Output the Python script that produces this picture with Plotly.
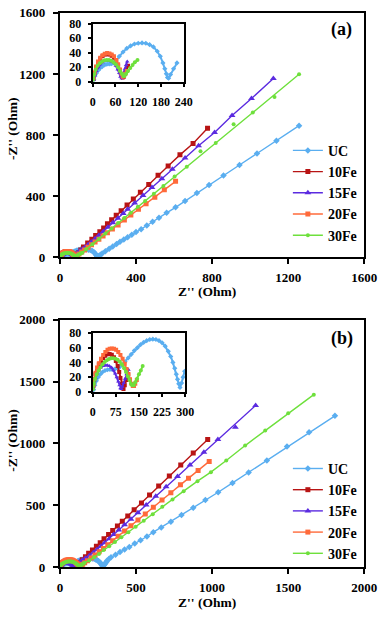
import plotly.graph_objects as go

# ---------------- DATA (Ohm) ----------------
SERIES = ["UC", "10Fe", "15Fe", "20Fe", "30Fe"]

# Panel (a): low-Z arcs (shown in inset and main) + Warburg tails (main only)
A_UC_ARC_X = [3, 6, 10, 15, 20, 25, 30, 35, 40, 45, 50, 55, 60, 70, 80, 90, 100, 110, 120, 130, 140, 150, 160, 170, 178, 185, 190, 194, 197, 200, 205, 213, 222]
A_UC_ARC_Y = [3, 8, 12, 16, 19, 21, 23, 24, 24.5, 24.5, 25, 26, 28, 35, 41, 46, 49.5, 52, 53, 53.5, 53, 51, 48, 42, 35, 26, 18, 11, 6, 5, 10, 18, 26]
A_UC_TAIL_X = [239, 259, 278, 298, 316, 336, 356, 378, 400, 427, 457, 487, 521, 561, 608, 658, 720, 784, 860, 944, 1036, 1138, 1257]
A_UC_TAIL_Y = [40, 57, 71, 88, 102, 117, 132, 149, 166, 185, 209, 234, 260, 292, 328, 370, 421, 474, 536, 605, 680, 764, 862]

A_10_ARC_X = [2, 5, 9, 14, 20, 26, 32, 38, 44, 50, 56, 62, 67, 72, 76, 79, 82, 85, 88, 93]
A_10_ARC_Y = [4, 12, 20, 27, 32, 35.5, 37.5, 38, 37.5, 36, 33, 28, 22, 16, 10, 6, 7, 11, 15, 22]
A_10_TAIL_X = [100, 110, 124, 146, 168, 188, 210, 230, 250, 272, 296, 322, 353, 386, 423, 467, 516, 569, 631, 700, 776]
A_10_TAIL_Y = [33, 48, 68, 94, 119, 143, 168, 193, 220, 247, 276, 306, 343, 382, 426, 478, 537, 599, 671, 746, 845]

A_15_ARC_X = [3, 6, 10, 15, 20, 26, 32, 38, 44, 50, 56, 61, 66, 70, 73, 76, 79, 82, 85, 88, 91]
A_15_ARC_Y = [3, 9, 15, 20, 24, 27, 28.5, 29, 29, 28, 26, 22, 17, 12, 7, 5, 8, 13, 18, 23, 28]
A_15_TAIL_X = [97, 106, 118, 132, 148, 165, 185, 205, 228, 252, 278, 305, 333, 356, 393, 437, 484, 536, 591, 658, 729, 813, 905, 1007, 1122]
A_15_TAIL_Y = [34, 42, 53, 66, 83, 101, 123, 145, 170, 198, 227, 257, 288, 316, 357, 405, 457, 515, 577, 651, 731, 817, 928, 1040, 1170]

A_20_ARC_X = [2, 5, 9, 14, 20, 26, 32, 38, 44, 50, 56, 62, 67, 72, 76, 79, 82, 86, 90]
A_20_ARC_Y = [5, 13, 21, 28, 33, 36.5, 38.5, 39.5, 39, 37.5, 35, 30, 24, 17, 11, 7, 8, 11, 15]
A_20_TAIL_X = [100, 115, 130, 148, 166, 185, 205, 227, 250, 276, 306, 339, 373, 413, 453, 499, 549, 608]
A_20_TAIL_Y = [22, 35, 49, 66, 83, 101, 119, 140, 162, 186, 213, 245, 277, 315, 351, 394, 443, 498]

A_30_ARC_X = [1, 4, 8, 13, 19, 25, 31, 37, 43, 49, 55, 61, 67, 72, 77, 81, 84, 88, 93, 99, 105, 111, 118]
A_30_ARC_Y = [3, 10, 17, 22, 25.5, 28, 29.5, 30, 30, 29, 27, 24, 20, 15, 11, 8, 8, 11, 15, 19, 23, 27, 30]
A_30_TAIL_X = [138, 171, 205, 239, 272, 306, 339, 373, 410, 448, 494, 544, 603, 667, 819, 1014, 1257]
A_30_TAIL_Y = [53, 87, 121, 156, 190, 225, 258, 293, 331, 370, 417, 468, 530, 594, 749, 948, 1198]
A_30_OFF_X = [739, 913, 1128]   # scattered points lying off the 30Fe line
A_30_OFF_Y = [694, 872, 1049]

# Panel (b)
B_UC_ARC_X = [3, 7, 12, 18, 25, 32, 40, 48, 56, 64, 72, 80, 88, 96, 105, 115, 125, 135, 145, 155, 165, 175, 185, 195, 205, 215, 225, 235, 245, 253, 260, 266, 271, 275, 279, 283, 288, 293, 298]
B_UC_ARC_Y = [3, 9, 15, 20, 24, 27, 29, 30, 30.5, 30.5, 31, 32, 34, 37, 41, 46, 51, 56, 60, 64, 67, 69.5, 71, 71.5, 71, 69.5, 66.5, 62, 55, 48, 40, 32, 24, 17, 11, 6, 12, 20, 28]
B_UC_TAIL_X = [305, 311, 322, 336, 366, 395, 425, 456, 492, 530, 572, 614, 666, 729, 799, 876, 956, 1040, 1134, 1240, 1360, 1492, 1637, 1807]
B_UC_TAIL_Y = [40, 52, 66, 79, 100, 121, 142, 163, 190, 216, 247, 282, 321, 366, 421, 479, 542, 605, 681, 766, 863, 975, 1090, 1224]

B_10_ARC_X = [2, 5, 9, 14, 20, 27, 34, 41, 48, 55, 62, 69, 75, 81, 86, 90, 94, 97, 100, 104, 109, 115]
B_10_ARC_Y = [8, 16, 24, 31, 37, 42, 46, 49, 51, 51.5, 50.5, 47, 42, 35, 27, 19, 11, 5, 4, 9, 16, 24]
B_10_TAIL_X = [125, 147, 168, 189, 214, 240, 265, 290, 320, 347, 378, 410, 446, 488, 536, 589, 649, 719, 794, 876, 971]
B_10_TAIL_Y = [36, 60, 84, 111, 137, 168, 197, 229, 264, 296, 332, 371, 413, 463, 519, 582, 655, 736, 825, 922, 1032]

B_15_ARC_X = [2, 5, 9, 14, 20, 26, 33, 40, 47, 54, 61, 67, 73, 78, 83, 87, 90, 93, 96, 100, 105, 110, 116]
B_15_ARC_Y = [5, 12, 19, 25, 29.5, 33, 35, 36, 36, 35, 33, 29.5, 25, 20, 14, 9, 5, 4, 7, 12, 18, 24, 30]
B_15_TAIL_X = [130, 147, 168, 193, 219, 244, 269, 294, 324, 353, 387, 425, 467, 513, 567, 630, 698, 773, 855, 946, 1038, 1286]
B_15_TAIL_Y = [42, 55, 71, 92, 116, 142, 168, 197, 229, 263, 300, 342, 387, 440, 502, 572, 649, 733, 825, 928, 1032, 1308]
B_15_OFF_X = [1153]   # scattered point lying off the 15Fe line
B_15_OFF_Y = [1131]

B_20_ARC_X = [2, 5, 9, 14, 20, 27, 34, 41, 48, 55, 62, 69, 76, 83, 90, 97, 104, 110, 116, 121, 126, 130, 134, 138, 143]
B_20_ARC_Y = [9, 18, 26, 33, 39, 45, 50, 54, 57, 58.5, 59, 58.5, 57, 54, 50, 45, 38, 31, 24, 17, 11, 8, 8, 11, 16]
B_20_TAIL_X = [150, 163, 181, 206, 231, 258, 286, 315, 347, 383, 425, 467, 513, 561, 614, 671, 729, 792, 845, 908, 981]
B_20_TAIL_Y = [22, 34, 50, 73, 97, 124, 151, 180, 213, 249, 291, 334, 381, 430, 484, 542, 601, 665, 718, 782, 855]

B_30_ARC_X = [1, 4, 8, 13, 19, 25, 32, 39, 46, 53, 60, 67, 74, 81, 88, 95, 102, 108, 114, 119, 124, 128, 133, 138, 144, 150, 156, 162]
B_30_ARC_Y = [4, 11, 18, 24, 29, 33.5, 37.5, 40.5, 43, 44.5, 45.5, 45.5, 45, 43.5, 41, 37, 32, 27, 21, 16, 11, 9, 9, 13, 18, 24, 29, 35]
B_30_TAIL_X = [193, 225, 257, 288, 324, 362, 404, 450, 498, 551, 610, 673, 740, 813, 904, 992, 1093, 1217, 1349, 1500, 1668]
B_30_TAIL_Y = [52, 79, 105, 137, 168, 203, 242, 282, 326, 374, 428, 487, 547, 614, 695, 768, 862, 983, 1104, 1245, 1395]

A_X_TICKS = [0, 400, 800, 1200, 1600]
B_X_TICKS = [0, 500, 1000, 1500, 2000]
A_IN_X_TICKS = [0, 60, 120, 180, 240]
B_IN_X_TICKS = [0, 75, 150, 225, 300]
IN_Y_TICKS = [0, 20, 40, 60, 80]

# ---------------- STYLE ----------------
COLORS = {"UC": "#5aaef0", "10Fe": "#b81414", "15Fe": "#5b2be0", "20Fe": "#ff6a3a", "30Fe": "#6ee03c"}
SYMBOLS = {"UC": "diamond", "10Fe": "square", "15Fe": "triangle-up", "20Fe": "square", "30Fe": "circle"}
MSIZE = {"UC": 5, "10Fe": 5, "15Fe": 6, "20Fe": 5, "30Fe": 4}
FONT = "Liberation Serif, Times New Roman, serif"

W, H = 392, 617
def px(v): return v / W
def py(v): return 1 - v / H

panels = {
    "a": {"UC": (A_UC_ARC_X, A_UC_ARC_Y, A_UC_TAIL_X, A_UC_TAIL_Y, [], []),
          "10Fe": (A_10_ARC_X, A_10_ARC_Y, A_10_TAIL_X, A_10_TAIL_Y, [], []),
          "15Fe": (A_15_ARC_X, A_15_ARC_Y, A_15_TAIL_X, A_15_TAIL_Y, [], []),
          "20Fe": (A_20_ARC_X, A_20_ARC_Y, A_20_TAIL_X, A_20_TAIL_Y, [], []),
          "30Fe": (A_30_ARC_X, A_30_ARC_Y, A_30_TAIL_X, A_30_TAIL_Y, A_30_OFF_X, A_30_OFF_Y)},
    "b": {"UC": (B_UC_ARC_X, B_UC_ARC_Y, B_UC_TAIL_X, B_UC_TAIL_Y, [], []),
          "10Fe": (B_10_ARC_X, B_10_ARC_Y, B_10_TAIL_X, B_10_TAIL_Y, [], []),
          "15Fe": (B_15_ARC_X, B_15_ARC_Y, B_15_TAIL_X, B_15_TAIL_Y, B_15_OFF_X, B_15_OFF_Y),
          "20Fe": (B_20_ARC_X, B_20_ARC_Y, B_20_TAIL_X, B_20_TAIL_Y, [], []),
          "30Fe": (B_30_ARC_X, B_30_ARC_Y, B_30_TAIL_X, B_30_TAIL_Y, [], [])},
}

fig = go.Figure()
axes = {"a": (("x", "y"), ("x2", "y2"), "legend"), "b": (("x3", "y3"), ("x4", "y4"), "legend2")}

for pan, data in panels.items():
    (mx, my), (ix, iy), leg = axes[pan]
    for name in SERIES:
        ax_, ay_, tx_, ty_, ox_, oy_ = data[name]
        c = COLORS[name]
        fig.add_trace(go.Scatter(
            x=ax_ + tx_, y=ay_ + ty_, xaxis=mx, yaxis=my, mode="lines+markers", name=name,
            line=dict(color=c, width=1.4),
            marker=dict(symbol=SYMBOLS[name], size=MSIZE[name], color=c),
            legend=leg, legendgroup=pan + name, showlegend=True))
        if ox_:
            fig.add_trace(go.Scatter(
                x=ox_, y=oy_, xaxis=mx, yaxis=my, mode="markers", name=name,
                marker=dict(symbol=SYMBOLS[name], size=MSIZE[name], color=c),
                legend=leg, legendgroup=pan + name, showlegend=False))
        fig.add_trace(go.Scatter(
            x=ax_, y=ay_, xaxis=ix, yaxis=iy, mode="lines+markers", name=name,
            line=dict(color=c, width=2),
            marker=dict(symbol=SYMBOLS[name], size=4, color=c),
            showlegend=False))

tickfont_main = dict(family=FONT, size=13, color="black", weight="bold")
tickfont_in = dict(family=FONT, size=12, color="black", weight="bold")
common = dict(showline=True, mirror=True, linewidth=2, linecolor="black", showgrid=False,
              zeroline=False, ticks="outside", tickcolor="black", tickwidth=1.5)

MAIN_X = [px(59.3), px(376.7)]
IN_X_A = [px(93.5), px(188.5)]
IN_X_B = [px(93.5), px(190)]
LEGFONT = dict(family=FONT, size=14, color="black", weight="bold")

fig.update_layout(
    width=W, height=H, autosize=False, margin=dict(l=0, r=0, t=0, b=0),
    paper_bgcolor="white", plot_bgcolor="white",
    font=dict(family=FONT, color="black"),
    xaxis=dict(domain=MAIN_X, range=[0, 1600], tickvals=A_X_TICKS, anchor="y", ticklen=5,
               ticklabelstandoff=2, tickfont=tickfont_main, **common),
    yaxis=dict(domain=[py(256.7), py(6)], range=[0, 1600], tickvals=A_X_TICKS, anchor="x", ticklen=5,
               ticklabelstandoff=5, tickfont=tickfont_main, **common),
    xaxis2=dict(domain=IN_X_A, range=[0, 240], tickvals=A_IN_X_TICKS, anchor="y2", ticklen=3,
                ticklabelstandoff=5, tickfont=tickfont_in, **common),
    yaxis2=dict(domain=[py(76.7), py(17)], range=[0, 80], tickvals=IN_Y_TICKS, anchor="x2", ticklen=3,
                ticklabelstandoff=4, tickfont=tickfont_in, **common),
    xaxis3=dict(domain=MAIN_X, range=[0, 2000], tickvals=B_X_TICKS, anchor="y3", ticklen=5,
                ticklabelstandoff=2, tickfont=tickfont_main, **common),
    yaxis3=dict(domain=[py(574), py(320.7)], range=[0, 2000], tickvals=B_X_TICKS, anchor="x3", ticklen=5,
                ticklabelstandoff=5, tickfont=tickfont_main, **common),
    xaxis4=dict(domain=IN_X_B, range=[0, 300], tickvals=B_IN_X_TICKS, anchor="y4", ticklen=3,
                ticklabelstandoff=5, tickfont=tickfont_in, **common),
    yaxis4=dict(domain=[py(394.5), py(334)], range=[0, 80], tickvals=IN_Y_TICKS, anchor="x4", ticklen=3,
                ticklabelstandoff=4, tickfont=tickfont_in, **common),
    legend=dict(x=px(297), y=py(131), xanchor="left", yanchor="top", bgcolor="rgba(0,0,0,0)",
                font=LEGFONT, tracegroupgap=0),
    legend2=dict(x=px(297), y=py(457), xanchor="left", yanchor="top", bgcolor="rgba(0,0,0,0)",
                 font=LEGFONT, tracegroupgap=0),
    showlegend=True,
)

titles = [
    ("-Z'' (Ohm)", px(10), py(124.5), -90),
    ("Z'' (Ohm)", px(213), py(292), 0),
    ("-Z'' (Ohm)", px(10), py(444), -90),
    ("Z'' (Ohm)", px(213), py(610), 0),
]
for t, x, y, ang in titles:
    fig.add_annotation(text=t, x=x, y=y, xref="paper", yref="paper", showarrow=False,
                       textangle=ang, xanchor="center", yanchor="middle",
                       font=dict(family=FONT, size=13.5, color="black", weight="bold"))
for t, y in [("(a)", 23), ("(b)", 340)]:
    fig.add_annotation(text=t, x=px(353), y=py(y), xref="paper", yref="paper", showarrow=False,
                       xanchor="center", yanchor="middle",
                       font=dict(family=FONT, size=18, color="black", weight="bold"))

fig.write_html("out.html", config={"displayModeBar": False},
               post_script="document.body.style.margin='0';")
